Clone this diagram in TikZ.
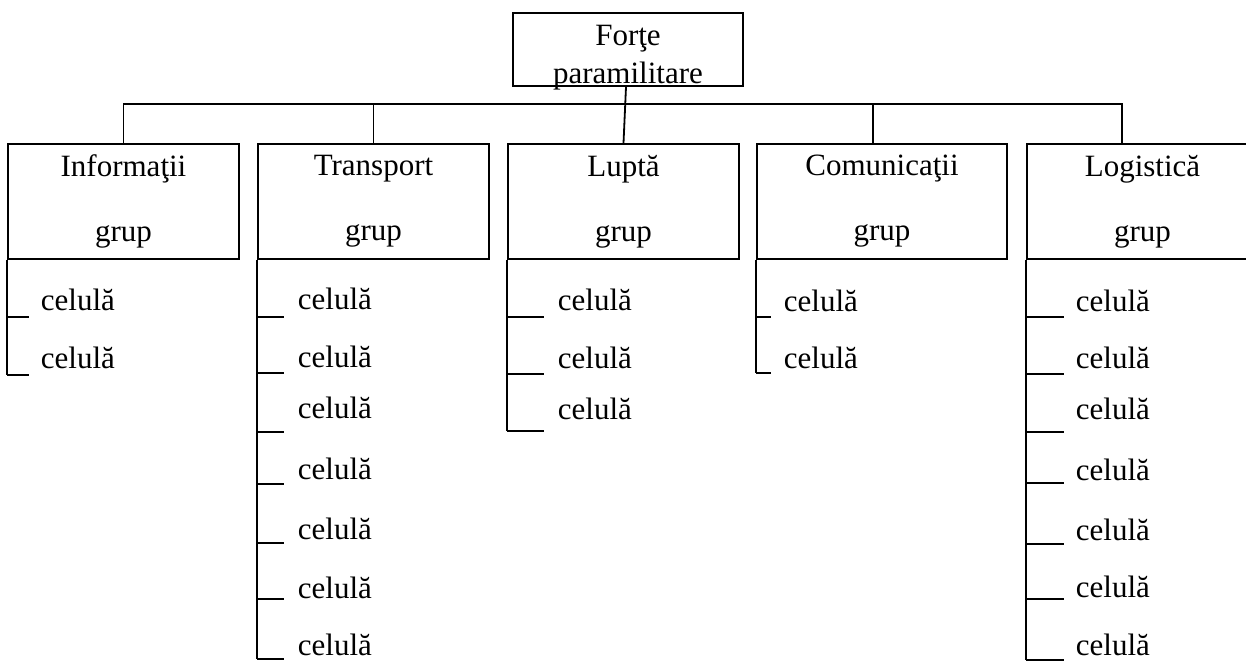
\documentclass[tikz,border=0pt]{standalone}
\usepackage{fontspec}
\setmainfont{Liberation Serif}
\begin{document}
\begin{tikzpicture}[x=1pt,y=-1pt,line width=1.8pt,
  every node/.style={font=\fontsize{31}{37}\selectfont,inner sep=0pt},
  grpbox/.style={draw,minimum height=115pt,align=center,font=\fontsize{31}{65}\selectfont},
  topbox/.style={draw,minimum width=230pt,minimum height=73pt},
  cell/.style={anchor=base west}]
\useasboundingbox (0,0) rectangle (1246,662);
\clip (0,0) rectangle (1246,662);
% top box
\node[topbox] (top) at (628,49.5) {};
\node[anchor=base] (top1) at (628,45) {Forţe};
\node[anchor=base] (top2) at (628,83) {paramilitare};
% group boxes
\node[grpbox,minimum width=231pt] (inf) at (123.5,201.5) {Informaţii\\grup};
\node[grpbox,minimum width=231pt] (tra) at (373.5,201.5) {Transport\\grup};
\node[grpbox,minimum width=231pt] (lup) at (623.5,201.5) {Luptă\\grup};
\node[grpbox,minimum width=250pt] (com) at (882,201.5) {Comunicaţii\\grup};
\node[grpbox,minimum width=231pt] (log) at (1142.5,201.5) {Logistică\\grup};
% connectors
\coordinate (bar) at (0,104);
\draw ([xshift=-2pt]top.south) -- (lup.north);
\draw (inf.north) -- (inf.north |- bar) -- ([xshift=-20.5pt]log.north |- bar) -- ([xshift=-20.5pt]log.north);
\draw (tra.north) -- (tra.north |- bar);
\draw ([xshift=-9pt]com.north) -- ([xshift=-9pt]com.north |- bar);
% cells: Informatii
\foreach \b/\t [count=\i] in {310/317,368/375}{
  \node[cell] (inf-\i) at (40,\b) {celulă};
  \draw (inf.south west |- 0,\t) -- ++(22,0);
}
\draw (inf.south west) -- (inf.south west |- 0,375);
% Transport
\foreach \b/\t [count=\i] in {309/317,367/373,418/432,479/484,539/543,598/599,655/659}{
  \node[cell] (tra-\i) at (297,\b) {celulă};
  \draw (tra.south west |- 0,\t) -- ++(27,0);
}
\draw (tra.south west) -- (tra.south west |- 0,659);
% Lupta
\foreach \b/\t [count=\i] in {310/317,368/374,419/431}{
  \node[cell] (lup-\i) at (557,\b) {celulă};
  \draw (lup.south west |- 0,\t) -- ++(37,0);
}
\draw (lup.south west) -- (lup.south west |- 0,431);
% Comunicatii
\foreach \b/\t [count=\i] in {311/317,368/373}{
  \node[cell] (com-\i) at (783,\b) {celulă};
  \draw (com.south west |- 0,\t) -- ++(15,0);
}
\draw (com.south west) -- (com.south west |- 0,373);
% Logistica
\foreach \b/\t [count=\i] in {311/317,368/374,419/432,480/483,540/544,597/599,655/660}{
  \node[cell] (log-\i) at (1075,\b) {celulă};
  \draw (log.south west |- 0,\t) -- ++(38,0);
}
\draw (log.south west) -- (log.south west |- 0,660);
\end{tikzpicture}
\end{document}
